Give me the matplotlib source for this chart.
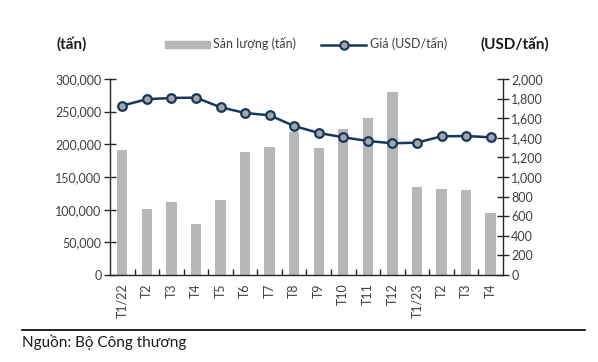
import matplotlib
matplotlib.use('Agg')
import matplotlib.pyplot as plt
from matplotlib.lines import Line2D
from matplotlib.ticker import FuncFormatter, FixedLocator
import numpy as np

plt.rcParams['font.family'] = ['Lato', 'DejaVu Sans']

months = ["T1/22", "T2", "T3", "T4", "T5", "T6", "T7", "T8", "T9", "T10",
          "T11", "T12", "T1/23", "T2", "T3", "T4"]
san_luong = [192000, 101500, 112000, 78000, 114500, 188500, 196500, 219500,
             194000, 224000, 240500, 280000, 135500, 131500, 130500, 95000]
gia = [1728, 1793, 1806, 1809, 1711, 1653, 1629, 1520, 1449, 1405,
       1367, 1344, 1350, 1415, 1418, 1405]

BAR_C = '#b7b7b7'
LINE_C = '#17375e'
TXT_C = '#404040'

fig = plt.figure(figsize=(5.98, 3.62), dpi=100)
ax = fig.add_axes([0.184, 0.240, 0.657, 0.542])
x = np.arange(len(months))

ax.bar(x, san_luong, width=0.42, color=BAR_C, zorder=2)
ax.set_xlim(-0.5, len(months) - 0.5)
ax.set_ylim(0, 300000)
ax.set_yticks(np.arange(0, 300001, 50000))
ax.yaxis.set_major_formatter(FuncFormatter(lambda v, p: f"{int(v):,}"))

ax2 = ax.twinx()
ax2.plot(x, gia, color=LINE_C, lw=1.8, marker='o', ms=6.2,
         mfc='#a6a6a6', mec=LINE_C, mew=1.6, zorder=3)
ax2.set_ylim(0, 2000)
ax2.set_yticks(np.arange(0, 2001, 200))
ax2.yaxis.set_major_formatter(FuncFormatter(lambda v, p: f"{int(v):,}"))

for a in (ax, ax2):
    a.spines['top'].set_visible(False)
    for s in ('left', 'right', 'bottom'):
        a.spines[s].set_color('#262626')
        a.spines[s].set_linewidth(1.0)
ax.spines['right'].set_visible(False)
ax2.spines['left'].set_visible(False)
ax2.spines['bottom'].set_visible(False)

ax.tick_params(axis='y', direction='inout', length=8, width=1.0,
               labelsize=9, labelcolor=TXT_C, color='#262626', pad=2)
ax2.tick_params(axis='y', direction='inout', length=8, width=1.0,
                labelsize=9, labelcolor=TXT_C, color='#262626', pad=2)

# category labels at centres, tick marks at boundaries
ax.set_xticks(x)
ax.set_xticklabels(months, rotation=90, fontsize=9, color=TXT_C)
ax.tick_params(axis='x', which='major', length=0, pad=6)
ax.xaxis.set_minor_locator(FixedLocator(np.arange(0.5, len(months) - 0.5, 1)))
ax.tick_params(axis='x', which='minor', direction='in', length=4,
               width=1.0, color='#262626')

# axis unit titles
fig.text(72 / 598, 1 - 44 / 362, "(tấn)", fontsize=11, fontweight='bold',
         ha='center', va='center', color='#1a1a1a')
fig.text(515 / 598, 1 - 44 / 362, "(USD/tấn)", fontsize=11, fontweight='bold',
         ha='center', va='center', color='#1a1a1a')

# legend
handles = [plt.Rectangle((0, 0), 1, 1, color=BAR_C),
           Line2D([0], [0], color=LINE_C, lw=1.8, marker='o', ms=6,
                  mfc='#a6a6a6', mec=LINE_C, mew=1.5)]
fig.legend(handles, ["Sản lượng (tấn)", "Giá (USD/tấn)"], ncol=2,
           loc='center', bbox_to_anchor=(306 / 598, 1 - 44 / 362),
           frameon=False, fontsize=9, handlelength=3.6, handleheight=0.5,
           columnspacing=2.0, handletextpad=0.3, labelcolor=TXT_C)

# source line
fig.add_artist(Line2D([22 / 598, 585 / 598], [1 - 330 / 362, 1 - 330 / 362],
                      color='black', lw=1.2))
fig.text(22 / 598, 1 - 342 / 362, "Nguồn: Bộ Công thương", fontsize=11,
         ha='left', va='center', color='#1a1a1a')

fig.savefig("out.png", dpi=100, facecolor='white')
